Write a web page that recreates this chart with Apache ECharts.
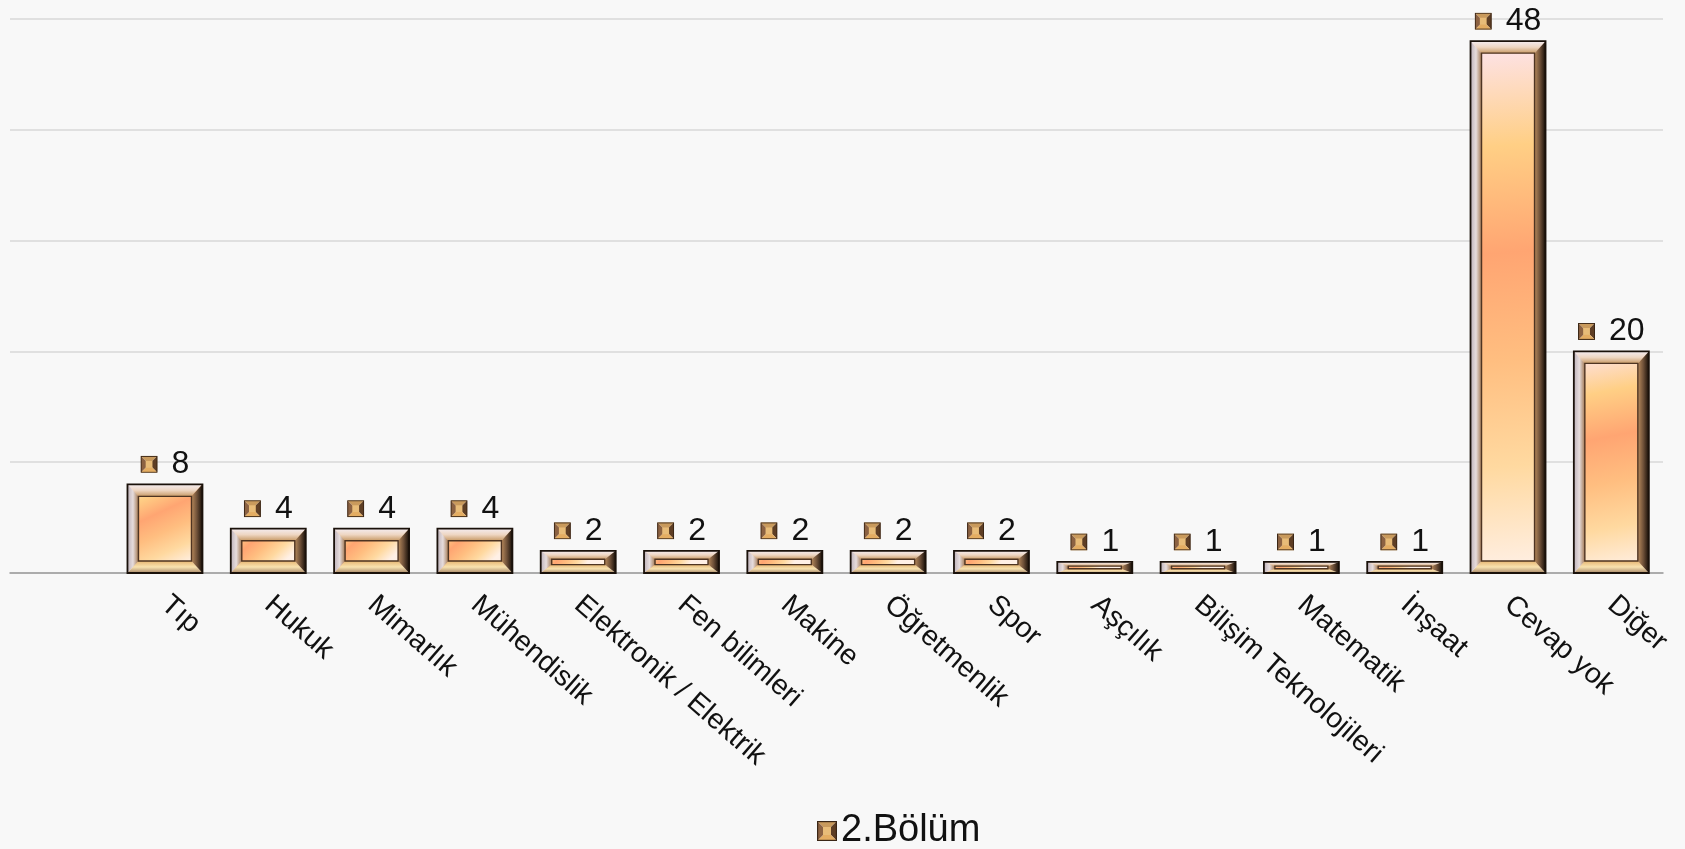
<!DOCTYPE html>
<html>
<head>
<meta charset="utf-8">
<script src="https://cdn.jsdelivr.net/npm/echarts@6/dist/echarts.min.js"></script>
<style>
html,body{margin:0;padding:0;background:#f8f8f8;}
#chart{width:1685px;height:849px;}
</style>
</head>
<body>
<div id="chart"></div>
<script>
// ---- data ----
const categories = ['Tıp','Hukuk','Mimarlık','Mühendislik','Elektronik / Elektrik','Fen bilimleri','Makine','Öğretmenlik','Spor','Aşçılık','Bilişim Teknolojileri','Matematik','İnşaat','Cevap yok','Diğer'];
const values = [8,4,4,4,2,2,2,2,2,1,1,1,1,48,20];
const seriesName = '2.Bölüm';
const yTicks = [0,10,20,30,40,50];

// ---- styling helpers ----
const FONT = '"Liberation Sans", Arial, sans-serif';
const BAR_FRAC = 0.726;
const iconSvg = "<svg xmlns='http://www.w3.org/2000/svg' width='20' height='20' viewBox='0 0 20 20'>" +
  "<polygon points='0,0 20,0 10,10' fill='#c99a5c'/>" +
  "<polygon points='20,0 20,20 10,10' fill='#5e3e24'/>" +
  "<polygon points='20,20 0,20 10,10' fill='#e4ad62'/>" +
  "<polygon points='0,20 0,0 10,10' fill='#8c6242'/>" +
  "<rect x='6' y='6' width='8' height='8' fill='#e8bc78'/>" +
  "<rect x='0.6' y='0.6' width='18.8' height='18.8' fill='none' stroke='#3a2616' stroke-width='1.2'/></svg>";
const iconUrl = 'data:image/svg+xml;charset=utf-8,' + encodeURIComponent(iconSvg);

function lg(x, y, x2, y2, cols) {
  return new echarts.graphic.LinearGradient(x, y, x2, y2,
    cols.map((c, k) => ({ offset: k / (cols.length - 1), color: c })));
}

const axisCats = [''].concat(categories);
const barData = [null].concat(values);
const bevelData = values.map((v, i) => [i + 1, v]);

function bevelItem(params, api) {
  const v = api.value(1);
  const i = api.value(0);
  const pTop = api.coord([i, v]);
  const pBase = api.coord([i, 0]);
  const w = api.size([1, 0])[0] * BAR_FRAC;
  const x0 = pTop[0] - w / 2, x1 = pTop[0] + w / 2;
  const y0 = pTop[1], y1 = pBase[1];
  const h = y1 - y0;
  const bt = Math.min(12, h * 0.38);
  const bs = Math.min(11, w / 2);
  const poly = (pts, fill) => ({ type: 'polygon', shape: { points: pts }, style: { fill: fill } });
  return {
    type: 'group',
    children: [
      poly([[x0, y0], [x1, y0], [x1 - bs, y0 + bt], [x0 + bs, y0 + bt]], lg(0, 0, 0, 1, ['#f4ecf0', '#eed6c2', '#c89a66'])),
      poly([[x0, y1], [x1, y1], [x1 - bs, y1 - bt], [x0 + bs, y1 - bt]], lg(0, 1, 0, 0, ['#a88868', '#f8e2b0', '#e6b672'])),
      poly([[x0, y0], [x0 + bs, y0 + bt], [x0 + bs, y1 - bt], [x0, y1]], lg(0, 0, 1, 0, ['#bdb2ba', '#e6dcdc', '#a47a54'])),
      poly([[x1, y0], [x1 - bs, y0 + bt], [x1 - bs, y1 - bt], [x1, y1]], lg(1, 0, 0, 0, ['#160e08', '#6e5038', '#b88a5c'])),
      { type: 'rect', shape: { x: x0 + bs, y: y0 + bt, width: w - 2 * bs, height: Math.max(h - 2 * bt, 0) },
        style: { fill: null, stroke: '#4e3422', lineWidth: 1.4 } },
      { type: 'rect', shape: { x: x0, y: y0, width: w, height: h },
        style: { fill: null, stroke: '#1a110a', lineWidth: 1.8 } }
    ]
  };
}

const chart = echarts.init(document.getElementById('chart'));
chart.setOption({
  backgroundColor: '#f8f8f8',
  animation: false,
  grid: { left: 10, right: 22, top: 19, bottom: 276, containLabel: false },
  legend: {
    data: [{ name: seriesName, icon: 'image://' + iconUrl }],
    left: 812, top: 807,
    itemWidth: 20, itemHeight: 20, itemGap: 10,
    textStyle: { fontSize: 38, color: '#111', fontFamily: FONT, padding: [0, 0, 0, -1] }
  },
  xAxis: {
    type: 'category',
    data: axisCats,
    boundaryGap: true,
    axisTick: { show: false },
    axisLine: { show: true, lineStyle: { color: '#9a9a9a', width: 1.5 } },
    axisLabel: {
      interval: 0, rotate: -41, margin: 28,
      fontSize: 28.5, color: '#111', fontFamily: FONT
    },
    splitLine: { show: false }
  },
  yAxis: {
    type: 'value',
    min: yTicks[0], max: yTicks[yTicks.length - 1], interval: yTicks[1] - yTicks[0],
    axisLabel: { show: false },
    axisLine: { show: false },
    axisTick: { show: false },
    splitLine: { show: true, lineStyle: { color: '#d9d9d9', width: 1.5 } }
  },
  series: [
    {
      name: seriesName,
      type: 'bar',
      data: barData,
      barWidth: (BAR_FRAC * 100) + '%',
      z: 2,
      itemStyle: {
        color: lg(0, 0, 0.55, 1, ['#fde4f0', '#ffcf85', '#ffa572', '#ffbe80', '#ffd9a0', '#fff0e6']),
        borderWidth: 0
      },
      label: {
        show: true,
        position: 'top',
        distance: 4,
        formatter: p => '{i|}{v|' + p.value + '}',
        rich: {
          i: { width: 17, height: 17, backgroundColor: { image: iconUrl } },
          v: { fontSize: 32, color: '#111', fontFamily: FONT, padding: [0, 0, 0, 14] }
        }
      }
    },
    {
      name: 'bevel',
      type: 'custom',
      silent: true,
      z: 3,
      renderItem: bevelItem,
      encode: { x: 0, y: 1 },
      data: bevelData
    }
  ]
});
</script>
</body>
</html>
